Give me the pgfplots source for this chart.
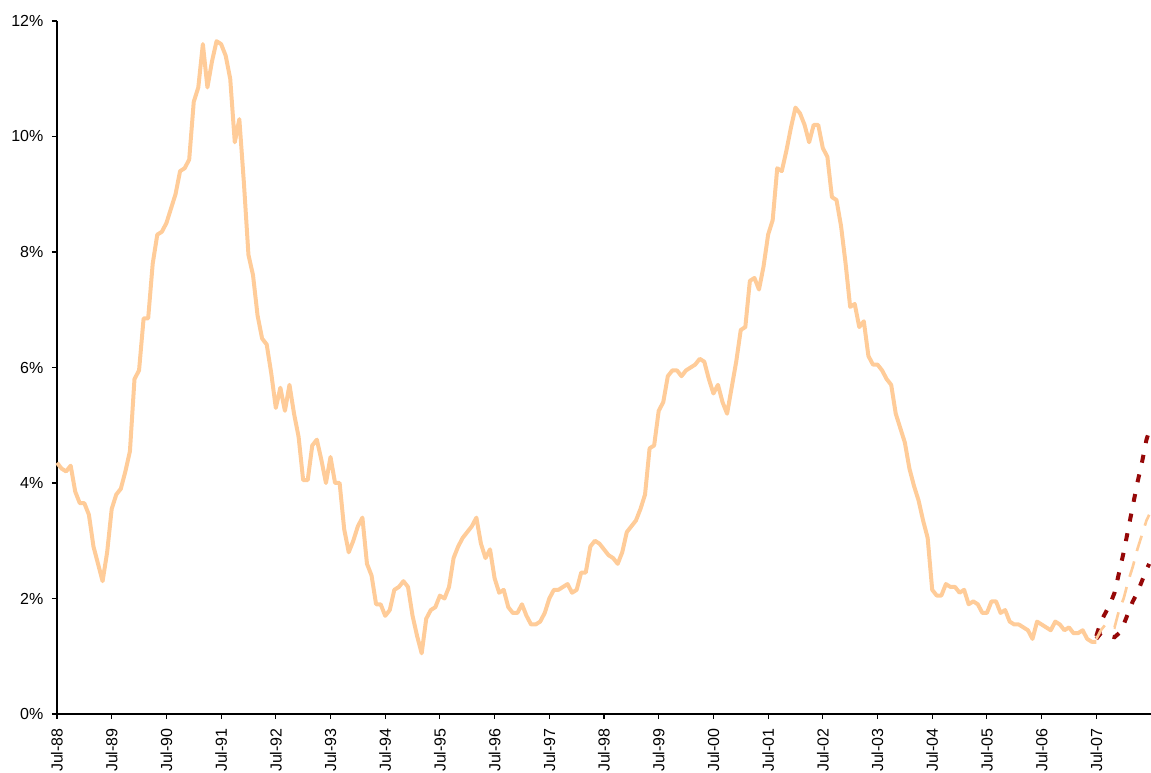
\documentclass[border=0pt]{standalone}
\usepackage{fontspec}
\setmainfont{Liberation Sans}
\usepackage{pgfplots}
\usepackage{pgfplotstable}
\pgfplotsset{compat=1.18}

\definecolor{peach}{RGB}{255,204,153}
\definecolor{darkred}{RGB}{150,8,8}

% months since Jul-88, value in %
\pgfplotstableread{
m y
0 4.35
1 4.25
2 4.2
3 4.3
4 3.85
5 3.65
6 3.65
7 3.45
8 2.9
9 2.6
10 2.3
11 2.8
12 3.55
13 3.8
14 3.9
15 4.2
16 4.55
17 5.8
18 5.95
19 6.85
20 6.85
21 7.8
22 8.3
23 8.35
24 8.5
25 8.75
26 9.0
27 9.4
28 9.45
29 9.6
30 10.6
31 10.85
32 11.6
33 10.85
34 11.3
35 11.65
36 11.6
37 11.4
38 11.0
39 9.9
40 10.3
41 9.2
42 7.95
43 7.6
44 6.9
45 6.5
46 6.4
47 5.9
48 5.3
49 5.65
50 5.25
51 5.7
52 5.2
53 4.8
54 4.05
55 4.05
56 4.65
57 4.75
58 4.4
59 4.0
60 4.45
61 4.0
62 4.0
63 3.2
64 2.8
65 3.0
66 3.25
67 3.4
68 2.6
69 2.4
70 1.9
71 1.9
72 1.7
73 1.8
74 2.15
75 2.2
76 2.3
77 2.2
78 1.7
79 1.35
80 1.05
81 1.65
82 1.8
83 1.85
84 2.05
85 2.0
86 2.2
87 2.7
88 2.9
89 3.05
90 3.15
91 3.25
92 3.4
93 2.95
94 2.7
95 2.85
96 2.35
97 2.1
98 2.15
99 1.85
100 1.75
101 1.75
102 1.9
103 1.7
104 1.55
105 1.55
106 1.6
107 1.75
108 2.0
109 2.15
110 2.15
111 2.2
112 2.25
113 2.1
114 2.15
115 2.45
116 2.45
117 2.9
118 3.0
119 2.95
120 2.85
121 2.75
122 2.7
123 2.6
124 2.8
125 3.15
126 3.25
127 3.35
128 3.55
129 3.8
130 4.6
131 4.65
132 5.25
133 5.4
134 5.85
135 5.95
136 5.95
137 5.85
138 5.95
139 6.0
140 6.05
141 6.15
142 6.1
143 5.8
144 5.55
145 5.7
146 5.4
147 5.2
148 5.65
149 6.1
150 6.65
151 6.7
152 7.5
153 7.55
154 7.35
155 7.75
156 8.3
157 8.55
158 9.45
159 9.4
160 9.75
161 10.15
162 10.5
163 10.4
164 10.2
165 9.9
166 10.2
167 10.2
168 9.8
169 9.65
170 8.95
171 8.9
172 8.45
173 7.8
174 7.05
175 7.1
176 6.7
177 6.8
178 6.2
179 6.05
180 6.05
181 5.95
182 5.8
183 5.7
184 5.2
185 4.95
186 4.7
187 4.25
188 3.95
189 3.7
190 3.35
191 3.05
192 2.15
193 2.05
194 2.05
195 2.25
196 2.2
197 2.2
198 2.1
199 2.15
200 1.9
201 1.95
202 1.9
203 1.75
204 1.75
205 1.95
206 1.95
207 1.75
208 1.8
209 1.6
210 1.55
211 1.55
212 1.5
213 1.45
214 1.3
215 1.6
216 1.55
217 1.5
218 1.45
219 1.6
220 1.55
221 1.45
222 1.5
223 1.4
224 1.4
225 1.45
226 1.3
227 1.25
228 1.25
}\actual

\pgfplotstableread{
m up mid low
228 1.35 1.3 1.3
229 1.6 1.45 1.4
230 1.75 1.55 1.4
231 1.9 1.55 1.35
232 2.1 1.5 1.33
233 2.45 1.8 1.4
234 2.8 2.0 1.55
235 3.2 2.3 1.75
236 3.6 2.55 1.95
237 4.0 2.85 2.1
238 4.35 3.1 2.3
239 4.75 3.35 2.5
239.6 4.9 3.45 2.6
}\forecast

\begin{document}
\begin{tikzpicture}
\begin{axis}[
    name=ax,
    scale only axis,
    width=820.5pt, height=519.75pt,
    xmin=0, xmax=240,
    ymin=0, ymax=12,
    axis x line*=bottom,
    axis y line*=left,
    axis line style={-, black, line width=0.8pt},
    tick align=outside,
    major tick length=3.75pt,
    tick style={black, line width=0.8pt},
    xtick={0,12,...,228},
    xticklabels={Jul-88,Jul-89,Jul-90,Jul-91,Jul-92,Jul-93,Jul-94,Jul-95,Jul-96,Jul-97,Jul-98,Jul-99,Jul-00,Jul-01,Jul-02,Jul-03,Jul-04,Jul-05,Jul-06,Jul-07},
    x tick label style={rotate=90, anchor=east},
    xticklabel shift=3.5pt,
    ytick={0,2,...,12},
    yticklabels={0\%,2\%,4\%,6\%,8\%,10\%,12\%},
    yticklabel shift=3pt,
    tick label style={font=\fontsize{12}{14}\selectfont},
    /pgf/number format/assume math mode=true,
    clip=false,
]
\addplot[peach, line width=3pt, line join=round] table[x=m, y=y] {\actual};
\addplot[darkred, line width=3pt, dash pattern=on 6pt off 9pt] table[x=m, y=up] {\forecast};
\addplot[darkred, line width=3pt, dash pattern=on 6pt off 9pt] table[x=m, y=low] {\forecast};
\addplot[peach, line width=2pt, dash pattern=on 12pt off 8pt] table[x=m, y=mid] {\forecast};
\end{axis}
\pgfresetboundingbox
\path ([xshift=-42.75pt, yshift=-44.25pt]ax.south west) rectangle ([yshift=15.75pt]ax.north east);
\end{tikzpicture}
\end{document}
